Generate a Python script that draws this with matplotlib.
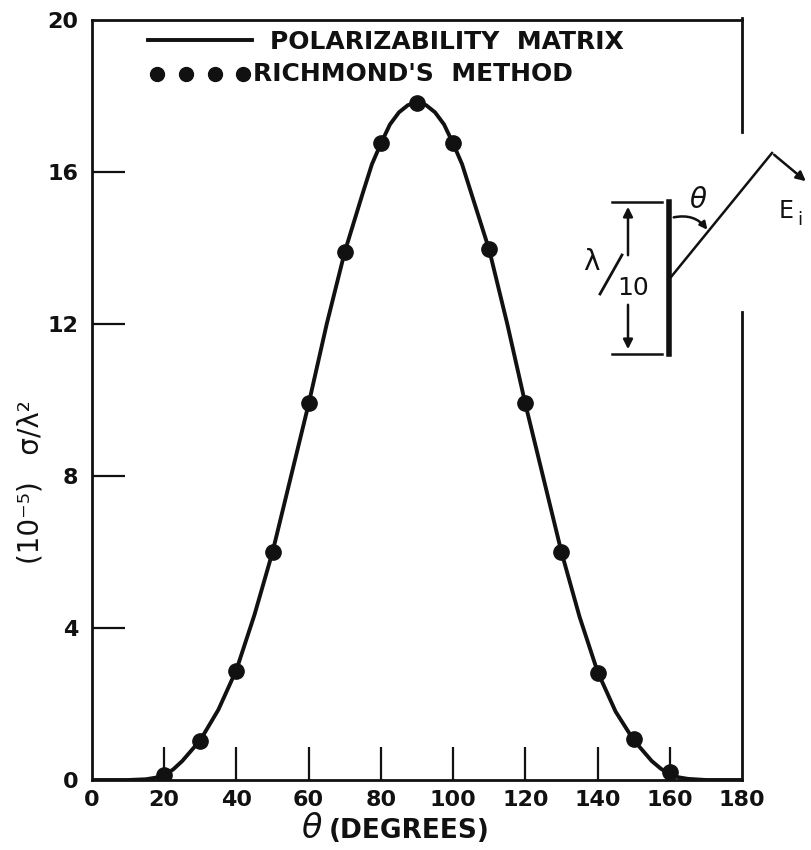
import matplotlib
matplotlib.use("Agg")
import matplotlib.pyplot as plt
from matplotlib.lines import Line2D
from matplotlib.patches import FancyArrowPatch
import numpy as np

# ---------- data ------------------------------------------------

# polarizability matrix curve (sigma / lambda^2, units of 1e-5)
curve_theta = [0, 5, 10, 15, 17.5, 20, 22.5, 25, 30, 35, 40, 45, 50, 55, 60, 65, 70, 75,
               77.5, 80, 82.5, 85, 87.5, 90, 92.5, 95, 97.5, 100, 102.5, 105, 110, 115,
               120, 125, 130, 135, 140, 145, 150, 155, 157.5, 160, 162.5, 165, 170, 175, 180]
curve_sigma = [0.0, 0.0, 0.0, 0.02, 0.06, 0.12, 0.28, 0.5, 1.05, 1.85, 2.9, 4.35, 6.0, 7.95,
               9.9, 12.0, 13.9, 15.45, 16.2, 16.75, 17.25, 17.57, 17.76, 17.82, 17.76, 17.57,
               17.25, 16.75, 16.2, 15.45, 13.95, 12.0, 9.9, 7.95, 6.0, 4.3, 2.85, 1.8, 1.05,
               0.5, 0.3, 0.15, 0.07, 0.03, 0.0, 0.0, 0.0]

# Richmond's method points
rich_theta = [20, 30, 40, 50, 60, 70, 80, 90, 100, 110, 120, 130, 140, 150, 160]
rich_sigma = [0.12, 1.03, 2.87, 6.0, 9.92, 13.9, 16.76, 17.82, 16.76, 13.97, 9.92, 6.0,
              2.82, 1.08, 0.2]

x_ticks = [0, 20, 40, 60, 80, 100, 120, 140, 160, 180]
y_ticks = [0, 4, 8, 12, 16, 20]

# ---------- figure --------------------------------------------------

W, H = 811, 850
fig = plt.figure(figsize=(W / 100, H / 100), dpi=100)
ax = fig.add_axes([92 / W, 1 - 780 / H, 650 / W, 760 / H])

def fpx(x, y):
    # figure pixel -> figure fraction
    return x / W, 1 - y / H

def apx(x, y):
    # figure pixel -> axes fraction
    return (x - 92) / 650, (780 - y) / 760

ink = '#111111'

ax.plot(curve_theta, curve_sigma, color=ink, lw=2.8, solid_capstyle='round',
        solid_joinstyle='round', zorder=3)
ax.plot(rich_theta, rich_sigma, 'o', color=ink, ms=11, zorder=4)

ax.set_xlim(0, 180)
ax.set_ylim(0, 20)
ax.set_xticks(x_ticks)
ax.set_yticks(y_ticks)
ax.set_xticklabels([str(t) for t in x_ticks])
ax.set_yticklabels([str(t) for t in y_ticks])

ax.tick_params(axis='both', direction='in', length=24, width=1.6, color=ink,
               labelsize=16, labelcolor=ink)
ax.tick_params(axis='y', pad=10)
ax.tick_params(axis='x', pad=7)
for lab in ax.get_xticklabels() + ax.get_yticklabels():
    lab.set_fontweight('bold')
# hide the end ticks that sit on the spines
for t in ax.xaxis.get_major_ticks()[::len(x_ticks) - 1]:
    t.tick1line.set_visible(False)
for t in ax.yaxis.get_major_ticks()[::len(y_ticks) - 1]:
    t.tick1line.set_visible(False)

for side in ['left', 'bottom', 'top']:
    ax.spines[side].set_linewidth(2.0)
    ax.spines[side].set_color(ink)
ax.spines['right'].set_visible(False)

# right spine is broken where the sketch sits
for y0, y1 in [(18, 132), (312, 780)]:
    ax.add_line(Line2D([1, 1], [apx(0, y0)[1], apx(0, y1)[1]], transform=ax.transAxes,
                       color=ink, lw=2.0, clip_on=False))

# legend drawn by hand
lx0, ly = apx(148, 40)
lx1, _ = apx(252, 40)
ax.add_line(Line2D([lx0, lx1], [ly, ly], transform=ax.transAxes, color=ink, lw=2.8))
ax.text(*apx(270, 42), 'POLARIZABILITY  MATRIX', transform=ax.transAxes, fontsize=18,
        fontweight='bold', va='center', ha='left', color=ink)
for dx in [157, 186, 215, 243]:
    ax.plot(*apx(dx, 74), 'o', transform=ax.transAxes, color=ink, ms=10, clip_on=False)
ax.text(*apx(253, 74), "RICHMOND'S  METHOD", transform=ax.transAxes, fontsize=18,
        fontweight='bold', va='center', ha='left', color=ink)

# axis labels
fig.text(*fpx(323, 828), r'$\theta$', fontsize=24, ha='right', va='center', color=ink)
fig.text(*fpx(329, 831), '(DEGREES)', fontsize=19, fontweight='bold', ha='left',
         va='center', color=ink)
fig.text(*fpx(30, 482), '(10\u207b\u2075)   \u03c3/\u03bb\u00b2', fontsize=20,
         rotation=90, ha='center', va='center', color=ink)

# ---------- incident wave sketch -----------------------------------

tf = fig.transFigure

def seg(p, q, lw=1.8):
    fig.add_artist(Line2D([fpx(*p)[0], fpx(*q)[0]], [fpx(*p)[1], fpx(*q)[1]],
                          transform=tf, color=ink, lw=lw))

def arrow(p, q, style='-|>', lw=1.8, ms=14, cs='arc3'):
    fig.add_artist(FancyArrowPatch(fpx(*p), fpx(*q), transform=tf, arrowstyle=style,
                                   mutation_scale=ms, color=ink, lw=lw,
                                   connectionstyle=cs))

seg((669, 202), (669, 354), lw=4.0)          # wire
seg((612, 202), (662, 202))                  # dimension lines
seg((612, 354), (662, 354))
arrow((628, 258), (628, 204))
arrow((628, 302), (628, 352))
seg((671, 277), (772, 153))                  # incident direction
arrow((772, 153), (808, 183))                # E field
arrow((671, 218), (709, 232), cs='arc3,rad=-0.35', ms=11)
seg((600, 294), (622, 255), lw=2.0)          # fraction slash

fig.text(*fpx(591, 262), '\u03bb', fontsize=20, ha='center', va='center', color=ink)
fig.text(*fpx(633, 288), '10', fontsize=18, ha='center', va='center', color=ink)
fig.text(*fpx(698, 200), r'$\theta$', fontsize=20, ha='center', va='center', color=ink)
fig.text(*fpx(786, 211), 'E', fontsize=17, ha='center', va='center', color=ink)
fig.text(*fpx(800, 220), 'i', fontsize=13, ha='center', va='center', color=ink)

fig.savefig('out.png', dpi=100, facecolor='white')
